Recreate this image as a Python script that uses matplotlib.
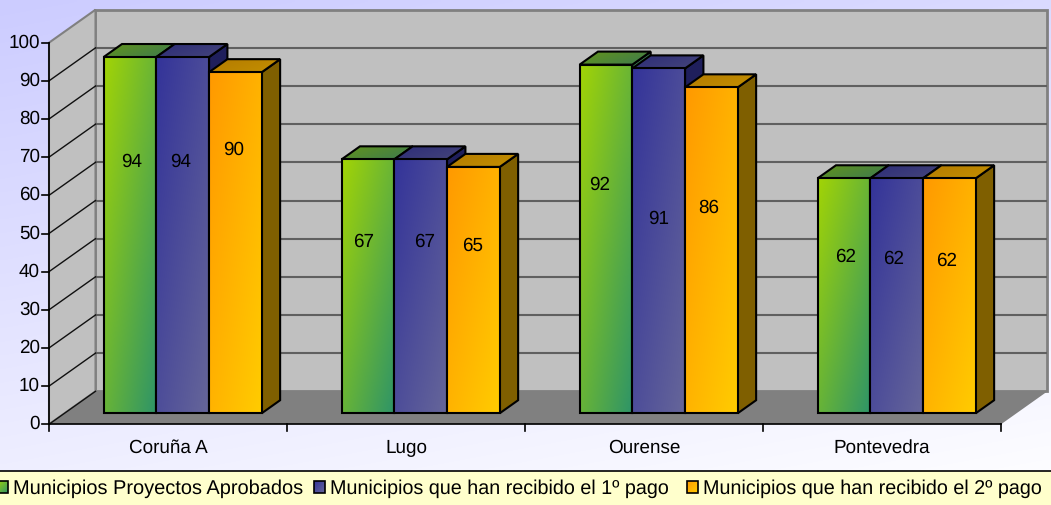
import matplotlib
matplotlib.use("Agg")
import matplotlib.pyplot as plt
import numpy as np
from matplotlib.colors import LinearSegmentedColormap
from matplotlib.patches import Polygon, Rectangle

plt.rcParams['font.family'] = ['Liberation Sans', 'DejaVu Sans']
plt.rcParams['text.hinting'] = 'no_hinting'

categories = ['Coruña A', 'Lugo', 'Ourense', 'Pontevedra']
aprobados = [94, 67, 92, 62]
pago_1 = [94, 67, 91, 62]
pago_2 = [90, 65, 86, 62]
series_names = ['Municipios Proyectos Aprobados',
                'Municipios que han recibido el 1º pago',
                'Municipios que han recibido el 2º pago']
y_ticks = list(range(0, 101, 10))

W, H = 1051, 505
X0_PX, CAT_PX = 49.0, 238.0      # front plane left edge, width of one category
Y0_PX, Y100_PX = 424.3, 42.7     # front plane y of value 0 and 100
UNIT = (Y0_PX - Y100_PX) / 100
DX = 46.5 / CAT_PX               # full depth of the box, in category units
DY = 33.0 / UNIT                 # same, in value units

BAR_D0, BAR_D1 = 0.335, 0.73     # bars sit between these depths
BAR_GAP, BAR_W = 0.164, 0.2215
BAR_SCALE = 0.993

# face colours: (start, end) of the front gradient, then top and side
styles = [
    {'front': ('#a2d405', '#2e9468'), 'top': ('#64941a', '#3c7a50'), 'side': '#3c7a50'},
    {'front': ('#333399', '#666699'), 'top': ('#2c2c78', '#45457a'), 'side': '#1f1f5c'},
    {'front': ('#ff9900', '#ffcc00'), 'top': ('#b37a00', '#c49000'), 'side': '#7f5f00'},
]
# where the value labels sit, (category + x, value height)
label_x = [[0.348, 0.555, 0.775], [0.320, 0.580, 0.778],
           [0.315, 0.560, 0.770], [0.345, 0.550, 0.773]]
label_y = [[69, 69, 72], [48, 48, 47], [63, 54, 57], [44, 43.5, 43]]

fig = plt.figure(figsize=(W / 100, H / 100), dpi=100)
ax = fig.add_axes([0, 0, 1, 1])
xlim = (-X0_PX / CAT_PX, (W - X0_PX) / CAT_PX)
ylim = ((Y0_PX - H) / UNIT, Y0_PX / UNIT)
ax.axis('off')


def proj(x, y, d=0.0):
    return (x + d * DX, y + d * DY)


def gradient_fill(pts, c0, c1, angle=0.0, zorder=1, edge='black', lw=1.5):
    """Fill polygon pts with a linear gradient, direction given by angle"""
    pts = np.array(pts)
    cmap = LinearSegmentedColormap.from_list('g', [c0, c1])
    xx, yy = np.meshgrid(np.linspace(0, 1, 128), np.linspace(1, 0, 128))
    im = ax.imshow(np.cos(angle) * xx + np.sin(angle) * (1 - yy), cmap=cmap,
                   extent=(pts[:, 0].min(), pts[:, 0].max(), pts[:, 1].min(), pts[:, 1].max()),
                   aspect='auto', zorder=zorder, interpolation='bilinear')
    poly = Polygon(pts, closed=True, fc='none', ec=edge, lw=lw, zorder=zorder, joinstyle='miter')
    ax.add_patch(poly)
    im.set_clip_path(poly)


def fill(pts, color, zorder=1, edge='none', lw=0):
    ax.add_patch(Polygon(pts, closed=True, fc=color, ec=edge, lw=lw, zorder=zorder, joinstyle='miter'))


# figure background
gradient_fill([(xlim[0], ylim[0]), (xlim[1], ylim[0]), (xlim[1], ylim[1]), (xlim[0], ylim[1])],
              '#ccccff', '#ffffff', angle=1.2, zorder=0, edge='none', lw=0)

# box: back wall, side wall, floor
n = len(categories)
fill([proj(0, 0, 1), proj(n, 0, 1), proj(n, 100, 1), proj(0, 100, 1)], '#c0c0c0', 1, '#808080', 2)
fill([proj(0, 0), proj(0, 0, 1), proj(0, 100, 1), proj(0, 100)], '#c0c0c0', 1, '#808080', 1.5)
fill([proj(0, 0), proj(n, 0), proj(n, 0, 1), proj(0, 0, 1)], '#808080', 2)

for v in y_ticks[1:-1]:
    ax.plot(*zip(proj(0, v, 1), proj(n, v, 1)), color='#606060', lw=1.5, zorder=2, solid_capstyle='butt')
for v in y_ticks[:-1]:
    ax.plot(*zip(proj(0, v), proj(0, v, 1)), color='#101010', lw=1, zorder=2)

# bars
z = 3
for i in range(n):
    for j, vals in enumerate([aprobados, pago_1, pago_2]):
        s = styles[j]
        x0 = i + BAR_GAP + j * BAR_W
        x1 = x0 + BAR_W
        top = vals[i] * BAR_SCALE
        fa = proj(x0, top, BAR_D0)
        fb = proj(x1, top, BAR_D0)
        fc = proj(x1, 0, BAR_D0)
        fd = proj(x0, 0, BAR_D0)
        ba = proj(x0, top, BAR_D1)
        bb = proj(x1, top, BAR_D1)
        bc = proj(x1, 0, BAR_D1)
        fill([fb, bb, bc, fc], s['side'], z, 'black', 1.5)
        gradient_fill([fa, fb, bb, ba], s['top'][0], s['top'][1], angle=0.5, zorder=z + 1)
        gradient_fill([fa, fb, fc, fd], s['front'][0], s['front'][1], angle=0.8, zorder=z + 2)
        ax.text(i + label_x[i][j], label_y[i][j] - 0.2, str(vals[i]), ha='center', va='center',
                fontsize=13.6, color='black', zorder=50)
        z += 3

# front axes
ax.plot([0, 0], [0, 100], color='black', lw=1.2, zorder=40)
ax.plot([0, n], [0, 0], color='black', lw=1.2, zorder=40)
tick_w = 7 / CAT_PX
tick_h = 7 / UNIT
for v in y_ticks:
    ax.plot([-tick_w, 0], [v, v], color='black', lw=1.2, zorder=40)
    ax.text(-tick_w - 2 / CAT_PX, v, str(v), ha='right', va='center', fontsize=13.6, zorder=40)
for i in range(n + 1):
    ax.plot([i, i], [0, -tick_h], color='black', lw=1.2, zorder=40)
for i, c in enumerate(categories):
    ax.text(i + 0.5, -22.5 / UNIT - 0.3, c, ha='center', va='center', fontsize=13.6, zorder=40)

# legend strip along the bottom, laid out in figure fractions
ax.add_patch(Rectangle((0, 0), 1, 34 / H, transform=ax.transAxes, fc='#ffffcc', ec='none', zorder=60))
ax.plot([0, 1], [34 / H, 34 / H], transform=ax.transAxes, color='black', lw=1.2, zorder=61)
leg_x = [-3, 314, 687]
leg_text_x = [13, 330, 703]
leg_fs = [14.4, 14.2, 14.2]
for j, name in enumerate(series_names):
    s = styles[j]
    box = [(leg_x[j], 481), (leg_x[j] + 11, 481), (leg_x[j] + 11, 493), (leg_x[j], 493)]
    box = [(px / W, 1 - py / H) for px, py in box]
    box = [(xlim[0] + a * (xlim[1] - xlim[0]), ylim[0] + b * (ylim[1] - ylim[0])) for a, b in box]
    gradient_fill(box, s['front'][0], s['front'][1], angle=0.8, zorder=62, lw=1.2)
    ax.text(leg_text_x[j] / W, 1 - 488.5 / H, name, transform=ax.transAxes, ha='left', va='center',
            fontsize=leg_fs[j], zorder=62)

ax.set_xlim(xlim)
ax.set_ylim(ylim)
fig.savefig('out.png', dpi=100)
